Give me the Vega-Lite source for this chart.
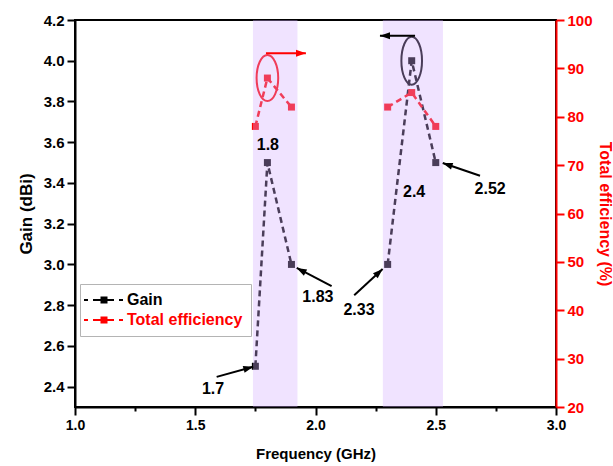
{
  "$schema": "https://vega.github.io/schema/vega-lite/v6.json",
  "width": 481,
  "height": 387,
  "autosize": "none",
  "padding": {"left": 75, "top": 20, "right": 57, "bottom": 59},
  "background": "white",
  "config": {
    "view": {"stroke": "black", "strokeWidth": 2},
    "axis": {
      "grid": false,
      "labelFont": "Liberation Sans",
      "titleFont": "Liberation Sans",
      "labelFontWeight": "bold",
      "titleFontWeight": "bold",
      "domainWidth": 2,
      "tickWidth": 2,
      "labelOverlap": false,
      "labelFlush": false,
      "labelBound": false
    },
    "text": {"font": "Liberation Sans"}
  },
  "datasets": {
    "gain": [
      {"f": 1.75, "g": 2.5, "band": "A"},
      {"f": 1.8, "g": 3.5, "band": "A"},
      {"f": 1.9, "g": 3.0, "band": "A"},
      {"f": 2.3, "g": 3.0, "band": "B"},
      {"f": 2.4, "g": 4.0, "band": "B"},
      {"f": 2.5, "g": 3.5, "band": "B"}
    ],
    "eff": [
      {"f": 1.75, "e": 78, "band": "A"},
      {"f": 1.8, "e": 88, "band": "A"},
      {"f": 1.9, "e": 82, "band": "A"},
      {"f": 2.3, "e": 82, "band": "B"},
      {"f": 2.4, "e": 85, "band": "B"},
      {"f": 2.5, "e": 78, "band": "B"}
    ],
    "bands": [
      {"x1": 1.74, "x2": 1.925},
      {"x1": 2.28, "x2": 2.53}
    ],
    "labels": [
      {"t": "1.7", "x": 1.574, "y": 2.386},
      {"t": "1.8", "x": 1.802, "y": 3.587},
      {"t": "1.83", "x": 2.01, "y": 2.842},
      {"t": "2.33", "x": 2.181, "y": 2.774},
      {"t": "2.4", "x": 2.41, "y": 3.357},
      {"t": "2.52", "x": 2.726, "y": 3.372}
    ],
    "arrows": [
      {"id": "a17", "x": 1.589, "y": 2.448, "x2": 1.741, "y2": 2.498, "hx": 1.7214, "hy": 2.4912},
      {"id": "a183", "x": 2.067, "y": 2.893, "x2": 1.922, "y2": 2.983, "hx": 1.9401, "hy": 2.9716},
      {"id": "a233", "x": 2.161, "y": 2.849, "x2": 2.279, "y2": 2.978, "hx": 2.264, "hy": 2.9613},
      {"id": "a252", "x": 2.684, "y": 3.435, "x2": 2.529, "y2": 3.498, "hx": 2.5484, "hy": 3.4897},
      {"id": "atop", "x": 2.414, "y": 4.123, "x2": 2.268, "y2": 4.123, "hx": 2.289, "hy": 4.123},
      {"id": "ared", "x": 1.794, "y": 4.037, "x2": 1.96, "y2": 4.037, "hx": 1.9397, "hy": 4.0368}
    ],
    "ellG": [{"f": 2.4, "g": 4.0}],
    "ellE": [{"f": 1.8, "e": 88}]
  },
  "layer": [
    {
      "layer": [
        {
          "data": {"name": "gain"},
          "mark": {"type": "line", "strokeDash": [6, 4], "strokeWidth": 2.5},
          "encoding": {
            "x": {
              "field": "f", "type": "quantitative",
              "scale": {"domain": [1, 3], "nice": false, "zero": false},
              "axis": {
                "title": "Frequency (GHz)",
                "values": [1, 1.25, 1.5, 1.75, 2, 2.25, 2.5, 2.75, 3],
                "labelExpr": "round(datum.value*4) % 2 == 0 ? format(datum.value, '.1f') : ''",
                "tickSize": {"condition": {"test": "round(datum.value*4) % 2 == 1", "value": 4}, "value": 8},
                "domainColor": "black", "tickColor": "black",
                "labelColor": "black", "labelFontSize": 14, "labelPadding": 3,
                "titleColor": "black", "titleFontSize": 15, "titlePadding": 14
              }
            },
            "y": {
              "field": "g", "type": "quantitative",
              "scale": {"domain": [2.3, 4.2], "nice": false, "zero": false},
              "axis": {
                "orient": "left",
                "title": "Gain (dBi)",
                "values": [2.4, 2.5, 2.6, 2.7, 2.8, 2.9, 3.0, 3.1, 3.2, 3.3, 3.4, 3.5, 3.6, 3.7, 3.8, 3.9, 4.0, 4.1, 4.2],
                "labelExpr": "round(datum.value*10) % 2 == 0 ? format(datum.value, '.1f') : ''",
                "tickSize": {"condition": {"test": "round(datum.value*10) % 2 == 1", "value": 4}, "value": 8},
                "domainColor": "black", "tickColor": "black",
                "labelColor": "black", "labelFontSize": 15, "labelPadding": 3,
                "titleColor": "black", "titleFontSize": 17, "titlePadding": 8
              }
            },
            "detail": {"field": "band"},
            "color": {
              "datum": "Gain", "type": "nominal",
              "scale": {"domain": ["Gain", "Total efficiency"], "range": ["black", "red"]},
              "legend": {
                "title": null,
                "orient": "none",
                "legendX": 5,
                "legendY": 264,
                "symbolType": "M-2.4,-0.2H-1.6V0.2H-2.4Z M-0.6,-0.2H0.9V0.2H-0.6Z M0.9,-0.7H2.3V0.7H0.9Z M2.3,-0.2H3.6V0.2H2.3Z M4.6,-0.2H5.4V0.2H4.6Z",
                "symbolSize": 100,
                "symbolStrokeWidth": 0,
                "symbolOpacity": 1,
                "labelFont": "Liberation Sans",
                "labelFontSize": 16,
                "labelFontWeight": "bold",
                "labelOffset": 23,
                "labelLimit": 300,
                "rowPadding": 4,
                "padding": 8,
                "strokeColor": "#b4b4b4",
                "fillColor": "white",
                "encode": {
                  "symbols": {"update": {"fill": {"scale": "color", "field": "value"}, "opacity": {"value": 1}, "strokeWidth": {"value": 0}}},
                  "labels": {"update": {"fill": {"scale": "color", "field": "value"}}}
                }
              }
            }
          }
        },
        {
          "data": {"name": "gain"},
          "mark": {"type": "point", "shape": "square", "filled": true, "size": 49, "opacity": 1},
          "encoding": {
            "x": {"field": "f", "type": "quantitative"},
            "y": {"field": "g", "type": "quantitative"},
            "color": {"datum": "Gain", "type": "nominal"}
          }
        },
        {
          "data": {"name": "ellG"},
          "mark": {"type": "point", "shape": "M-0.43,0A0.43,1 0 1,0 0.43,0A0.43,1 0 1,0 -0.43,0Z", "filled": false, "size": 2304, "stroke": "black", "strokeWidth": 2, "opacity": 1},
          "encoding": {
            "x": {"field": "f", "type": "quantitative"},
            "y": {"field": "g", "type": "quantitative"}
          }
        }
      ]
    },
    {
      "layer": [
        {
          "data": {"name": "eff"},
          "mark": {"type": "line", "strokeDash": [6, 4], "strokeWidth": 2.5},
          "encoding": {
            "x": {"field": "f", "type": "quantitative"},
            "y": {
              "field": "e", "type": "quantitative",
              "scale": {"domain": [20, 100], "nice": false, "zero": false},
              "axis": {
                "orient": "right",
                "title": "Total efficiency (%)",
                "values": [20, 25, 30, 35, 40, 45, 50, 55, 60, 65, 70, 75, 80, 85, 90, 95, 100],
                "labelExpr": "datum.value % 10 == 0 ? format(datum.value, 'd') : ''",
                "tickSize": {"condition": {"test": "datum.value % 10 != 0", "value": 4}, "value": 8},
                "domainColor": "red", "tickColor": "red",
                "labelColor": "red", "labelFontSize": 15, "labelPadding": 3,
                "titleColor": "red", "titleFontSize": 16, "titlePadding": 4
              }
            },
            "detail": {"field": "band"},
            "color": {"datum": "Total efficiency", "type": "nominal"}
          }
        },
        {
          "data": {"name": "eff"},
          "mark": {"type": "point", "shape": "square", "filled": true, "size": 49, "opacity": 1},
          "encoding": {
            "x": {"field": "f", "type": "quantitative"},
            "y": {"field": "e", "type": "quantitative"},
            "color": {"datum": "Total efficiency", "type": "nominal"}
          }
        },
        {
          "data": {"name": "ellE"},
          "mark": {"type": "point", "shape": "M-0.47,0A0.47,1 0 1,0 0.47,0A0.47,1 0 1,0 -0.47,0Z", "filled": false, "size": 2116, "stroke": "red", "strokeWidth": 2, "opacity": 1},
          "encoding": {
            "x": {"field": "f", "type": "quantitative"},
            "y": {"field": "e", "type": "quantitative"}
          }
        }
      ]
    },
    {
      "data": {"name": "bands"},
      "mark": {"type": "rect", "fill": "#d4affe", "opacity": 0.35},
      "encoding": {
        "x": {"field": "x1", "type": "quantitative"},
        "x2": {"field": "x2"}
      }
    },
    {
      "layer": [
        {
          "data": {"name": "labels"},
          "mark": {"type": "text", "fontSize": 16, "fontWeight": "bold", "color": "black", "align": "center", "baseline": "middle"},
          "encoding": {
            "x": {"field": "x", "type": "quantitative"},
            "y": {"field": "y", "type": "quantitative", "scale": {"domain": [2.3, 4.2], "nice": false, "zero": false}, "axis": null},
            "text": {"field": "t"}
          }
        },
        {
          "data": {"name": "arrows"},
          "transform": [{"filter": "datum.id != 'ared'"}],
          "mark": {"type": "rule", "strokeWidth": 2, "color": "black"},
          "encoding": {
            "x": {"field": "x", "type": "quantitative"},
            "y": {"field": "y", "type": "quantitative"},
            "x2": {"field": "x2"},
            "y2": {"field": "y2"}
          }
        },
        {
          "data": {"name": "arrows"},
          "transform": [{"filter": "datum.id == 'ared'"}],
          "mark": {"type": "rule", "strokeWidth": 2, "color": "red"},
          "encoding": {
            "x": {"field": "x", "type": "quantitative"},
            "y": {"field": "y", "type": "quantitative"},
            "x2": {"field": "x2"},
            "y2": {"field": "y2"}
          }
        },
        {
          "data": {"name": "arrows"},
          "transform": [{"filter": "datum.id == 'a17'"}],
          "mark": {"type": "point", "shape": "M0,-1L0.7,1L-0.7,1Z", "filled": true, "size": 100, "angle": 74.7, "color": "black", "opacity": 1},
          "encoding": {"x": {"field": "hx", "type": "quantitative"}, "y": {"field": "hy", "type": "quantitative"}}
        },
        {
          "data": {"name": "arrows"},
          "transform": [{"filter": "datum.id == 'a183'"}],
          "mark": {"type": "point", "shape": "M0,-1L0.7,1L-0.7,1Z", "filled": true, "size": 100, "angle": 297.7, "color": "black", "opacity": 1},
          "encoding": {"x": {"field": "hx", "type": "quantitative"}, "y": {"field": "hy", "type": "quantitative"}}
        },
        {
          "data": {"name": "arrows"},
          "transform": [{"filter": "datum.id == 'a233'"}],
          "mark": {"type": "point", "shape": "M0,-1L0.7,1L-0.7,1Z", "filled": true, "size": 100, "angle": 47.1, "color": "black", "opacity": 1},
          "encoding": {"x": {"field": "hx", "type": "quantitative"}, "y": {"field": "hy", "type": "quantitative"}}
        },
        {
          "data": {"name": "arrows"},
          "transform": [{"filter": "datum.id == 'a252'"}],
          "mark": {"type": "point", "shape": "M0,-1L0.7,1L-0.7,1Z", "filled": true, "size": 100, "angle": 288.8, "color": "black", "opacity": 1},
          "encoding": {"x": {"field": "hx", "type": "quantitative"}, "y": {"field": "hy", "type": "quantitative"}}
        },
        {
          "data": {"name": "arrows"},
          "transform": [{"filter": "datum.id == 'atop'"}],
          "mark": {"type": "point", "shape": "M0,-1L0.7,1L-0.7,1Z", "filled": true, "size": 100, "angle": 270, "color": "black", "opacity": 1},
          "encoding": {"x": {"field": "hx", "type": "quantitative"}, "y": {"field": "hy", "type": "quantitative"}}
        },
        {
          "data": {"name": "arrows"},
          "transform": [{"filter": "datum.id == 'ared'"}],
          "mark": {"type": "point", "shape": "M0,-1L0.7,1L-0.7,1Z", "filled": true, "size": 100, "angle": 90, "color": "red", "opacity": 1},
          "encoding": {"x": {"field": "hx", "type": "quantitative"}, "y": {"field": "hy", "type": "quantitative"}}
        }
      ]
    }
  ],
  "resolve": {"scale": {"y": "independent"}, "axis": {"y": "independent"}}
}
